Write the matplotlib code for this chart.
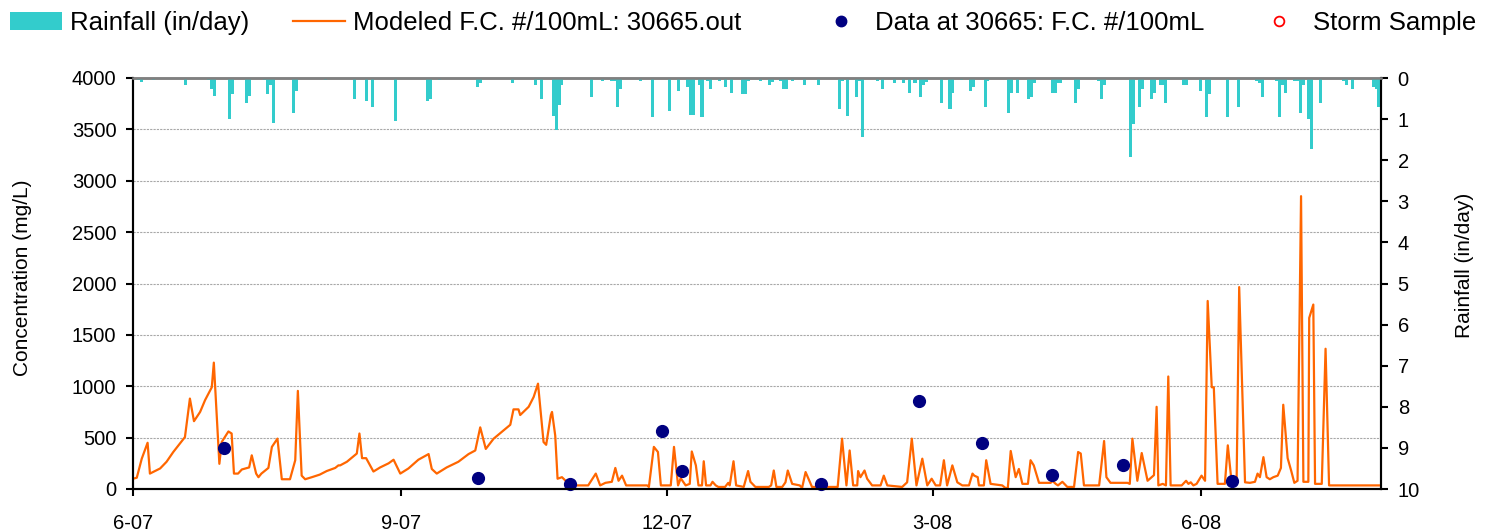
import numpy as np
import matplotlib
matplotlib.use("Agg")
import matplotlib.pyplot as plt
import matplotlib.dates as mdates
from matplotlib.patches import Patch
from matplotlib.lines import Line2D
from datetime import datetime

plt.rcParams['font.family'] = ['Liberation Sans', 'DejaVu Sans']

# ---------------- data (x = days after 2007-06-01) ----------------
start_date = datetime(2007, 6, 1)

model_days = [0, 1.3, 3, 5, 5.8, 9.3, 11.5, 13.8, 17.8, 19.5, 20.9, 23, 24.7, 27, 27.7, 29.6, 30.4, 32.7,
              33.8, 34.6, 36, 37.3, 39.8, 40.7, 42.2, 43, 44, 46.4, 47.6, 49.5, 51, 53.8, 55.6, 56.5, 57.8,
              59, 61.3, 64, 66.4, 69.3, 70.4, 71, 73.3, 76.7, 77.6, 78.5, 79.9, 82.4, 84.7, 87.6, 89.3,
              91.6, 94.4, 97.8, 101.3, 102.4, 104.1, 107.5, 111.5, 115, 117.3, 119, 120.9, 123.6, 127,
              129.3, 130.4, 132.1, 132.7, 135.6, 137.3, 138.8, 140.7, 141.6, 143.2, 143.6, 144.7, 145.5,
              147, 148.1, 149.9, 156, 158.6, 160.1, 161.9, 164.1, 165.3, 166.4, 167.6, 169, 176.2, 176.8,
              178.5, 179.9, 180.9, 184.3, 185.4, 186.8, 187.7, 189.4, 190.8, 191.5, 192.9, 193.8, 195,
              195.6, 196.4, 197.9, 198.6, 199.7, 200.6, 202.9, 204, 204.5, 205.8, 206.7, 209.3, 210.8,
              211.6, 213.3, 217.9, 218.7, 219.6, 220.5, 222.5, 223.6, 224.4, 225.9, 228.5, 229.3, 230.5,
              232.7, 241.5, 243, 244.5, 245.6, 246.8, 248.2, 248.5, 249.3, 250.7, 251.6, 253.3, 256.2,
              257.3, 258.5, 263.6, 265.3, 266.9, 268.5, 270.5, 272.2, 273.7, 275.1, 276.6, 277.9, 279,
              280.8, 282.5, 284.2, 286.5, 287.7, 288.3, 289.5, 289.9, 291.6, 292.4, 293.9, 297.9, 299,
              299.8, 300.8, 302.5, 303.6, 304.8, 306.7, 307.6, 308.7, 310.5, 314.5, 315.1, 316.2, 317,
              318.5, 320.2, 322.5, 323.9, 324.8, 325.9, 331.1, 332.8, 333.6, 335, 340.8, 341.6, 342.5,
              344.2, 345.7, 347.7, 349.9, 350.8, 351.4, 352.9, 354, 354.8, 355.6, 357.1, 359.4, 360.9,
              361.7, 362.5, 363.4, 364.5, 366.2, 367.4, 368.3, 369.7, 370.4, 371.7, 374.2, 375.2, 376.5,
              378.2, 379.1, 381.1, 382.8, 384.5, 385.4, 386.2, 387.4, 388.5, 389.6, 390.8, 392.3, 393.4,
              394.2, 395.7, 396.9, 398, 399.1, 400.3, 401.1, 402.8, 403.1, 404.5, 405.1, 407.4, 408.7,
              409.9, 427.7]
model_values = [100, 110, 295, 450, 150, 200, 265, 360, 505, 880, 660, 750, 865, 990, 1230, 245, 457, 560,
                540, 150, 150, 190, 210, 328, 150, 115, 150, 205, 410, 490, 95, 95, 280, 955, 130,
                95, 115, 140, 175, 205, 230, 230, 265, 345, 540, 300, 300, 170, 210, 250, 285,
                150, 200, 285, 340, 195, 150, 210, 265, 340, 375, 600, 390, 490, 570,
                625, 775, 775, 720, 800, 895, 1025, 457, 430, 720, 750, 520, 100,
                115, 85, 35, 35, 150, 35, 60, 70, 205, 80, 130, 35, 35, 20,
                410, 360, 35, 35, 410, 35, 105, 35, 50, 365, 230, 35, 35,
                270, 35, 35, 70, 35, 20, 20, 60, 35, 270, 35, 20, 175,
                70, 20, 20, 35, 180, 20, 20, 65, 180, 50, 35, 10, 165,
                20, 20, 490, 35, 375, 35, 35, 175, 115, 180, 100, 35, 35,
                130, 35, 20, 65, 490, 35, 295, 35, 100, 35, 35, 280, 35,
                230, 65, 35, 35, 150, 130, 115, 35, 35, 280, 50, 35, 10,
                10, 370, 115, 195, 50, 50, 280, 230, 60, 60, 80, 50, 35,
                70, 20, 20, 360, 345, 35, 35, 467, 115, 60, 60, 50, 490,
                80, 350, 80, 135, 800, 35, 50, 35, 1095, 35, 35, 35, 80,
                50, 65, 35, 50, 130, 80, 1830, 990, 990, 50, 50, 425, 65,
                50, 1965, 65, 60, 70, 150, 115, 310, 115, 95, 115, 130, 205,
                820, 300, 180, 60, 80, 2850, 70, 70, 1665, 1795, 50, 50, 1365,
                35, 35]

sample_days = [31.2, 118.1, 149.6, 181.2, 188, 235.8, 269.5, 290.8, 314.8, 339.4, 376.5]
sample_values = [402, 110, 52, 560, 172, 52, 853, 448, 133, 230, 75]

storm_days = []
storm_values = []

rain_days = [2, 3, 7, 18, 26, 27, 28, 33, 34, 39, 40, 45, 46, 47, 48, 55, 56, 66, 76, 80, 82, 90,
             101, 102, 105, 118, 119, 130, 138, 139, 140, 144, 145, 146, 147, 157, 161, 164, 165, 166,
             167, 174, 178, 184, 187, 190, 191, 192, 194, 195, 197, 198, 201, 203, 205, 209, 210, 211,
             215, 218, 219, 222, 223, 224, 226, 230, 235, 242, 243, 245, 248, 249, 250, 255, 257, 261,
             264, 266, 268, 270, 271, 272, 277, 280, 281, 284, 287, 288, 292, 293, 300, 301, 303, 307,
             308, 309, 315, 316, 317, 318, 323, 324, 331, 332, 333, 342, 343, 345, 346, 349, 350, 352,
             353, 354, 355, 360, 361, 366, 368, 369, 375, 379, 385, 386, 387, 392, 393, 394, 395, 398,
             399, 400, 401, 403, 404, 407, 415, 416, 418, 425, 426, 427]
rain_values = [0.05, 0.1, 0.05, 0.16, 0.06, 0.26, 0.45, 1.0, 0.4, 0.6, 0.45, 0.06, 0.4, 0.18, 1.09, 0.84,
               0.32, 0.06, 0.5, 0.56, 0.7, 1.05, 0.56, 0.5, 0.06, 0.22, 0.11, 0.11, 0.16, 0.06, 0.5, 0.93,
               1.27, 0.65, 0.16, 0.46, 0.07, 0.07, 0.07, 0.7, 0.26, 0.07, 0.95, 0.8, 0.32, 0.22, 0.9, 0.9,
               0.16, 0.95, 0.07, 0.26, 0.07, 0.22, 0.36, 0.4, 0.4, 0.07, 0.07, 0.16, 0.1, 0.07, 0.26, 0.26,
               0.07, 0.16, 0.16, 0.75, 0.07, 0.93, 0.46, 0.07, 1.44, 0.07, 0.26, 0.12, 0.12, 0.36, 0.12,
               0.46, 0.16, 0.1, 0.6, 0.75, 0.36, 0.06, 0.32, 0.22, 0.7, 0.07, 0.84, 0.36, 0.36, 0.5, 0.46,
               0.11, 0.36, 0.36, 0.11, 0.11, 0.6, 0.26, 0.07, 0.5, 0.16, 1.92, 1.13, 0.7, 0.26, 0.5, 0.36,
               0.16, 0.16, 0.6, 0.06, 0.16, 0.16, 0.32, 0.95, 0.4, 0.95, 0.7, 0.07, 0.11, 0.46, 0.07, 0.95,
               0.16, 0.36, 0.07, 0.07, 0.84, 0.16, 0.99, 1.72, 0.6, 0.07, 0.16, 0.26, 0.22, 0.26, 0.7]

conc_ticks = [0, 500, 1000, 1500, 2000, 2500, 3000, 3500, 4000]
rain_ticks = [0, 1, 2, 3, 4, 5, 6, 7, 8, 9, 10]
x_span_days = 427.7

# ---------------- plot ----------------
base = mdates.date2num(start_date)
W, H = 1487, 532
fig = plt.figure(figsize=(W / 100, H / 100), dpi=100)
ax = fig.add_axes([133 / W, 1 - 489 / H, (1381 - 133) / W, (489 - 78) / H])
ax2 = ax.twinx()

tick_fs = 14.5
label_fs = 15

mx = base + np.asarray(model_days)
ax.plot(mx, model_values, color='#FF6600', lw=1.6, zorder=3)
ax.plot(base + np.asarray(sample_days), sample_values, 'o', color='#000080', ms=8.5, mec='#000080',
        zorder=4, clip_on=False)
ax.plot(base + np.asarray(storm_days, dtype=float), storm_values, 'o', mfc='none', mec='red', ms=7)

ax.set_ylim(0, 4000)
ax.set_yticks(conc_ticks)
ax.set_xlim(base, base + x_span_days)
ax.xaxis.set_major_locator(mdates.MonthLocator(bymonth=[3, 6, 9, 12]))
ax.xaxis.set_major_formatter(mdates.DateFormatter('%-m-%y'))
ax.grid(axis='y', color='#A8A8A8', lw=0.8, linestyle=(0, (2, 1)))
ax.set_axisbelow(True)
ax.tick_params(axis='both', labelsize=tick_fs, length=5, width=1.5, direction='out', color='black')
ax.tick_params(axis='x', pad=13)
ax.tick_params(axis='y', pad=7)
ax.set_ylabel('Concentration (mg/L)', fontsize=label_fs)
ax.yaxis.set_label_coords((32 - 133) / 1248, 0.513)

ax2.bar(base + np.asarray(rain_days), rain_values, width=1.05, color='#33CCCC', linewidth=0, zorder=2)
ax2.set_ylim(10, 0)
ax2.set_yticks(rain_ticks)
ax2.tick_params(axis='y', labelsize=tick_fs, length=5, width=1.5, direction='out', pad=7)
ax2.set_ylabel('Rainfall (in/day)', fontsize=label_fs, rotation=90)
ax2.yaxis.set_label_coords((1455 - 133) / 1248, 0.545)
ax2.set_xlim(base, base + x_span_days)

for a in (ax, ax2):
    for s in ('left', 'right', 'bottom'):
        a.spines[s].set_linewidth(1.5)
        a.spines[s].set_color('black')
    a.spines['top'].set_color('#808080')
    a.spines['top'].set_linewidth(1.8)

# ---------------- legend ----------------
leg_fs = 18.5
em = leg_fs * 100 / 72
handles = [
    Patch(facecolor='#33CCCC', edgecolor='none', label='Rainfall (in/day)'),
    Line2D([], [], color='#FF6600', lw=1.6, label='Modeled F.C. #/100mL: 30665.out'),
    Line2D([], [], color='#000080', marker='o', ls='none', ms=7.5, label='Data at 30665: F.C. #/100mL'),
    Line2D([], [], color='red', marker='o', mfc='none', ls='none', ms=7, mew=1.3, label='Storm Sample'),
]
lefts = [10, 293, 815, 1253]
for h, x0 in zip(handles, lefts):
    fig.legend(handles=[h], loc='center left', bbox_to_anchor=(x0 / W, 1 - 23 / H),
               frameon=False, fontsize=leg_fs, borderpad=0, borderaxespad=0,
               handlelength=52 / em, handletextpad=8 / em, handleheight=0.75)

fig.savefig('out.png', dpi=100)
